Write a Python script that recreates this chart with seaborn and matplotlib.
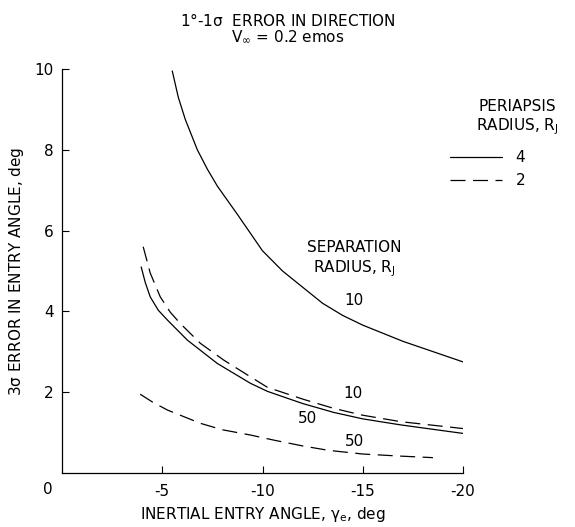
import matplotlib
matplotlib.use("Agg")
import matplotlib.pyplot as plt
import seaborn as sns
import pandas as pd

# ---- data ----
periapsis_labels = ["4", "2"]

# periapsis 4, separation 10 (solid)
x_p4_s10 = [-5.5, -5.8, -6.15, -6.75, -7.25, -7.75, -8.25, -8.75, -10.0, -11.0, -12.0, -13.0, -14.0, -15.0, -17.0, -20.0]
y_p4_s10 = [9.95, 9.3, 8.75, 8.0, 7.52, 7.1, 6.75, 6.4, 5.5, 5.0, 4.6, 4.2, 3.9, 3.66, 3.26, 2.75]

# periapsis 2, separation 10 (dashed)
x_p2_s10 = [-4.05, -4.4, -4.9, -5.4, -5.9, -6.9, -8.05, -9.4, -10.25, -12.0, -13.55, -15.0, -16.9, -20.0]
y_p2_s10 = [5.6, 4.95, 4.36, 3.98, 3.70, 3.21, 2.80, 2.38, 2.12, 1.83, 1.60, 1.43, 1.27, 1.10]

# periapsis 4, separation 50 (solid)
x_p4_s50 = [-3.95, -4.15, -4.4, -4.8, -5.25, -6.25, -7.75, -9.4, -10.25, -12.0, -13.55, -15.0, -16.9, -20.0]
y_p4_s50 = [5.1, 4.72, 4.36, 4.03, 3.79, 3.29, 2.71, 2.22, 2.02, 1.72, 1.50, 1.34, 1.19, 0.98]

# periapsis 2, separation 50 (dashed)
x_p2_s50 = [-3.9, -4.5, -5.25, -6.9, -8.0, -9.4, -10.6, -12.0, -13.3, -15.0, -16.8, -18.5]
y_p2_s50 = [1.95, 1.76, 1.56, 1.23, 1.07, 0.94, 0.81, 0.67, 0.56, 0.47, 0.42, 0.38]

x_ticks = [-5, -10, -15, -20]
x_tick_labels = ["-5", "-10", "-15", "-20"]
y_ticks = [2, 4, 6, 8, 10]
y_tick_labels = ["2", "4", "6", "8", "10"]

curves = [
    ("4", "10", x_p4_s10, y_p4_s10),
    ("2", "10", x_p2_s10, y_p2_s10),
    ("4", "50", x_p4_s50, y_p4_s50),
    ("2", "50", x_p2_s50, y_p2_s50),
]
rows = []
for per, sep, xs, ys in curves:
    for i, (xv, yv) in enumerate(zip(xs, ys)):
        rows.append({"x": xv, "y": yv, "periapsis": per, "curve": per + "_" + sep, "i": i})
df = pd.DataFrame(rows)

# ---- styling ----
sns.set_theme(style="ticks")
plt.rcParams["font.family"] = ["DejaVu Sans"]
plt.rcParams["axes.unicode_minus"] = False
plt.rcParams["mathtext.default"] = "regular"
plt.rcParams["text.color"] = "black"
plt.rcParams["axes.labelcolor"] = "black"

FS = 11
fig = plt.figure(figsize=(5.75, 5.27), dpi=100)
ax = fig.add_axes([62 / 575, 1 - 473 / 527, (463 - 62) / 575, (473 - 69) / 527])

sns.lineplot(
    data=df, x="x", y="y", style="periapsis", units="curve", estimator=None,
    sort=False, style_order=periapsis_labels,
    dashes={"4": "", "2": (12, 6)}, color="black", linewidth=0.9, ax=ax,
)

ax.set_xlim(0, -20)
ax.set_ylim(0, 10)
ax.set_xticks(x_ticks)
ax.set_xticklabels(x_tick_labels, fontsize=FS)
ax.set_yticks(y_ticks)
ax.set_yticklabels(y_tick_labels, fontsize=FS)
ax.tick_params(direction="in", length=5, width=0.8, color="black", labelcolor="black")
ax.tick_params(axis="x", pad=8)
ax.tick_params(axis="y", pad=6)
for s in ["top", "right"]:
    ax.spines[s].set_visible(False)
for s in ["left", "bottom"]:
    ax.spines[s].set_linewidth(0.9)
    ax.spines[s].set_color("black")

ax.set_xlabel(r"INERTIAL ENTRY ANGLE, $\gamma_{e}$, deg", fontsize=FS, color="black", labelpad=4)
ax.set_ylabel(r"3$\sigma$ ERROR IN ENTRY ANGLE, deg", fontsize=FS, color="black", labelpad=6)

# origin label
fig.text(48 / 575, 1 - 490 / 527, "0", fontsize=FS, ha="center", va="center", color="black")

# title
fig.text(288 / 575, 1 - 20 / 527, r"1°-1$\sigma$  ERROR IN DIRECTION", fontsize=FS, ha="center", va="center", color="black")
fig.text(288 / 575, 1 - 37 / 527, r"V$_{\infty}$ = 0.2 emos", fontsize=FS, ha="center", va="center", color="black")

# curve annotations
ax.text(-14.6, 5.28, "SEPARATION\nRADIUS, $R_J$", fontsize=FS, ha="center", va="center", linespacing=1.2, color="black")
ax.text(-14.55, 4.28, "10", fontsize=FS, ha="center", va="center", color="black")
ax.text(-14.5, 1.96, "10", fontsize=FS, ha="center", va="center", color="black")
ax.text(-12.25, 1.34, "50", fontsize=FS, ha="center", va="center", color="black")
ax.text(-14.6, 0.79, "50", fontsize=FS, ha="center", va="center", color="black")

# legend
handles, labels = ax.get_legend_handles_labels()
if ax.get_legend() is not None:
    ax.get_legend().remove()
pairs = [(h, l) for h, l in zip(handles, labels) if l in periapsis_labels]
leg = fig.legend(
    [p[0] for p in pairs], [p[1] for p in pairs],
    loc="upper left", bbox_to_anchor=(450 / 575, 1 - 150 / 527),
    frameon=False, fontsize=FS, handlelength=3.4, handletextpad=0.9,
    borderpad=0, borderaxespad=0, labelspacing=0.55,
)
for t in leg.get_texts():
    t.set_color("black")
fig.text(517 / 575, 1 - 118 / 527, "PERIAPSIS\nRADIUS, $R_J$", fontsize=FS, ha="center", va="center", linespacing=1.2, color="black")

fig.savefig("out.png", dpi=100)
